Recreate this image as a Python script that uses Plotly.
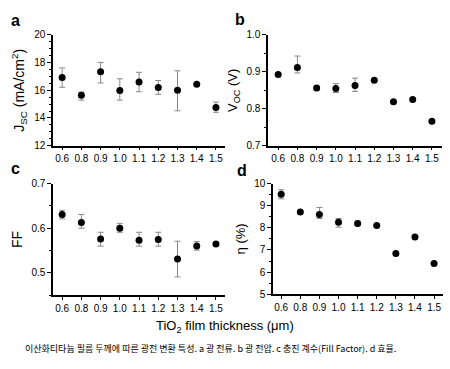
import plotly.graph_objects as go

thickness = ["0.6", "0.8", "0.9", "1.0", "1.1", "1.2", "1.3", "1.4", "1.5"]

jsc = [16.92, 15.64, 17.34, 15.99, 16.6, 16.2, 16.0, 16.43, 14.76]
jsc_hi = [17.62, 15.87, 18.02, 16.83, 17.3, 16.71, 17.41, 16.43, 15.15]
jsc_lo = [16.22, 15.29, 16.53, 15.29, 15.9, 15.71, 14.52, 16.43, 14.41]

voc = [0.893, 0.912, 0.856, 0.855, 0.863, 0.877, 0.819, 0.825, 0.766]
voc_hi = [0.893, 0.943, 0.861, 0.868, 0.883, 0.877, 0.819, 0.825, 0.766]
voc_lo = [0.893, 0.897, 0.851, 0.844, 0.847, 0.877, 0.819, 0.825, 0.766]

ff = [0.631, 0.613, 0.576, 0.600, 0.573, 0.575, 0.531, 0.560, 0.565]
ff_hi = [0.640, 0.631, 0.591, 0.611, 0.591, 0.591, 0.571, 0.570, 0.565]
ff_lo = [0.621, 0.600, 0.560, 0.591, 0.560, 0.560, 0.491, 0.551, 0.565]

eta = [9.52, 8.71, 8.60, 8.25, 8.20, 8.10, 6.84, 7.59, 6.39]
eta_hi = [9.72, 8.75, 8.92, 8.42, 8.30, 8.10, 6.84, 7.65, 6.39]
eta_lo = [9.31, 8.67, 8.42, 8.03, 8.10, 8.10, 6.84, 7.53, 6.39]

idx = list(range(len(thickness)))

panels = [
    ("x", "y", jsc, jsc_hi, jsc_lo, [12, 20], [12, 14, 16, 18, 20], "J<sub>SC</sub> (mA/cm<sup>2</sup>)", "d", 0.5),
    ("x2", "y2", voc, voc_hi, voc_lo, [0.7, 1.0], [0.7, 0.8, 0.9, 1.0], "V<sub>OC</sub> (V)", ".1f", 0.05),
    ("x3", "y3", ff, ff_hi, ff_lo, [0.45, 0.7], [0.5, 0.6, 0.7], "FF", ".1f", 0.05),
    ("x4", "y4", eta, eta_hi, eta_lo, [5, 10], [5, 6, 7, 8, 9, 10], "η (%)", "d", 0.5),
]

fig = go.Figure()
for xa, ya, v, hi, lo, *_ in panels:
    fig.add_trace(go.Scatter(
        x=idx, y=v, xaxis=xa, yaxis=ya, mode="markers",
        marker=dict(color="black", size=7),
        error_y=dict(type="data", symmetric=False,
                     array=[h - a for h, a in zip(hi, v)],
                     arrayminus=[a - l for a, l in zip(v, lo)],
                     color="#888888", thickness=1, width=3),
        showlegend=False))

font = "Liberation Sans, Arial, sans-serif"
xdoms = [[0.118, 0.5], [0.596, 0.982], [0.118, 0.5], [0.607, 0.985]]
ydoms = [[0.610, 0.919], [0.610, 0.919], [0.192, 0.504], [0.195, 0.504]]
xranges = [[-0.47, 8.47], [-0.52, 8.52], [-0.47, 8.47], [-0.42, 8.48]]
tsizes = [14, 13, 14, 13]

layout = dict(
    width=450, height=369, margin=dict(l=0, r=0, t=0, b=0),
    paper_bgcolor="white", plot_bgcolor="white",
    font=dict(family=font, color="black"),
)
for i, (xa, ya, v, hi, lo, yr, ytv, title, fmt, mdt) in enumerate(panels):
    sfx = "" if i == 0 else str(i + 1)
    layout["xaxis" + sfx] = dict(
        domain=xdoms[i], range=xranges[i], anchor="y" + sfx,
        tickvals=idx, ticktext=thickness, ticks="outside", ticklen=3,
        showline=True, linecolor="black", linewidth=1.5, showgrid=False,
        zeroline=False, tickfont=dict(size=10, family=font), tickcolor="black")
    layout["yaxis" + sfx] = dict(
        domain=ydoms[i], range=yr, anchor="x" + sfx,
        tickvals=ytv, tickformat=fmt, ticks="outside", ticklen=4,
        minor=dict(ticks="outside", ticklen=2, dtick=mdt, tick0=yr[0], tickcolor="black"),
        showline=True, linecolor="black", linewidth=1.5, showgrid=False,
        zeroline=False, tickfont=dict(size=10, family=font), tickcolor="black",
        title=dict(text=title, font=dict(size=tsizes[i], family=font), standoff=6))
fig.update_layout(**layout)

for lbl, x, y in [("a", 15, 15), ("b", 240, 14), ("c", 15, 167), ("d", 242, 170)]:
    fig.add_annotation(text="<b>%s</b>" % lbl, x=x / 450, y=1 - y / 369, xref="paper", yref="paper",
                       showarrow=False, xanchor="center", yanchor="middle",
                       font=dict(size=16, family=font))

fig.add_annotation(text="TiO<sub>2</sub> film thickness (μm)", x=225 / 450, y=1 - 330 / 369,
                   xref="paper", yref="paper", showarrow=False, xanchor="center", yanchor="middle",
                   font=dict(size=13, family=font))
fig.add_annotation(text="이산화티타늄 필름 두께에 따른 광전 변환 특성. a 광 전류. b 광 전압. c 충진 계수(Fill Factor). d 효율.",
                   x=23 / 450, y=1 - 353 / 369, xref="paper", yref="paper", showarrow=False,
                   xanchor="left", yanchor="middle",
                   font=dict(size=9, family="Noto Sans CJK KR"))

fig.write_html("out.html", config={"displayModeBar": False},
               post_script="document.body.style.margin='0';")
